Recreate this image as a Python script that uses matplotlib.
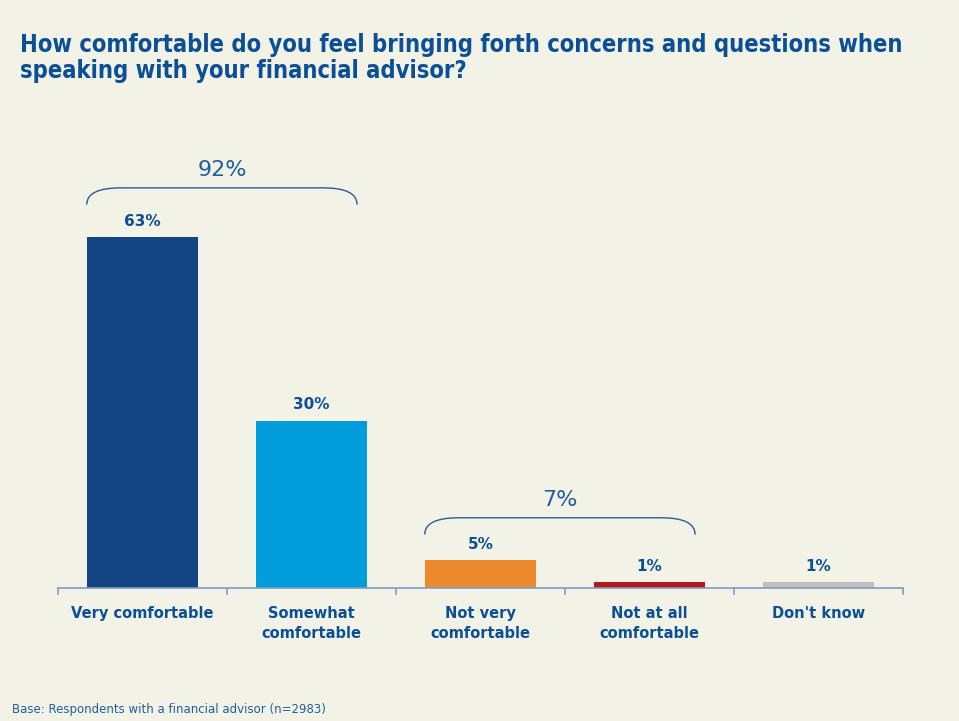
import matplotlib.pyplot as plt
from matplotlib.path import Path
from matplotlib.patches import PathPatch

# Data
categories = ["Very comfortable", "Somewhat\ncomfortable", "Not very\ncomfortable",
              "Not at all\ncomfortable", "Don't know"]
values = [63, 30, 5, 1, 1]
bar_colors = ["#134584", "#009DDA", "#EC892C", "#B3191C", "#BFBFBF"]
# (label, first bar, last bar, bracket height)
groups = [("92%", 0, 1, 71.8), ("7%", 2, 3, 12.6)]

bg = "#F2F2E6"
blue = "#0B4F96"

fig = plt.figure(figsize=(9.59, 7.21), dpi=100, facecolor=bg)
ax = fig.add_axes([58 / 959, 1 - 588 / 721, 845 / 959, 438 / 721])
ax.set_facecolor(bg)

x = range(len(categories))
ax.bar(x, values, width=0.66, color=bar_colors, edgecolor="none", zorder=2)
for i, v in enumerate(values):
    ax.text(i, v + 1.5, f"{v}%", ha="center", va="bottom", fontsize=11,
            fontweight="bold", color=blue)

ax.set_xlim(-0.5, len(categories) - 0.5)
ax.set_ylim(0, 78.6)

for s in ["top", "right", "left"]:
    ax.spines[s].set_visible(False)
ax.spines["bottom"].set_color("#7F9DBF")
ax.spines["bottom"].set_linewidth(1.2)
ax.set_yticks([])
ax.set_xticks([i - 0.5 for i in range(len(categories) + 1)])
ax.set_xticklabels([])
ax.tick_params(axis="x", length=5, color="#7F9DBF", width=1.2)
for i, c in enumerate(categories):
    ax.text(i, -3.2, c, ha="center", va="top", fontsize=10.5, fontweight="bold",
            color=blue, linespacing=1.4)

# Brackets over groups
for label, a, b, top in groups:
    x0, x1 = a - 0.33, b + 0.27
    y0, y1 = top - 3.0, top
    r = 0.2
    verts = [(x0, y0), (x0, y1), (x0 + r, y1), (x1 - r, y1), (x1, y1), (x1, y0)]
    codes = [Path.MOVETO, Path.CURVE3, Path.CURVE3, Path.LINETO, Path.CURVE3, Path.CURVE3]
    ax.add_patch(PathPatch(Path(verts, codes), fill=False, edgecolor="#2A5C96",
                           linewidth=1.0, clip_on=False))
    ax.text((x0 + x1) / 2, y1 + 1.4, label, ha="center", va="bottom", fontsize=16,
            color="#1F5FA0")

fig.text(20 / 959, 1 - 33 / 721,
         "How comfortable do you feel bringing forth concerns and questions when\n"
         "speaking with your financial advisor?",
         ha="left", va="top", fontsize=17, fontweight="bold", color=blue,
         fontstretch="condensed", linespacing=1.1)

fig.text(12 / 959, 1 - 710 / 721, "Base: Respondents with a financial advisor (n=2983)",
         ha="left", va="center", fontsize=8.5, color="#1F5FA0")

fig.savefig("out.png", dpi=100, facecolor=bg)
